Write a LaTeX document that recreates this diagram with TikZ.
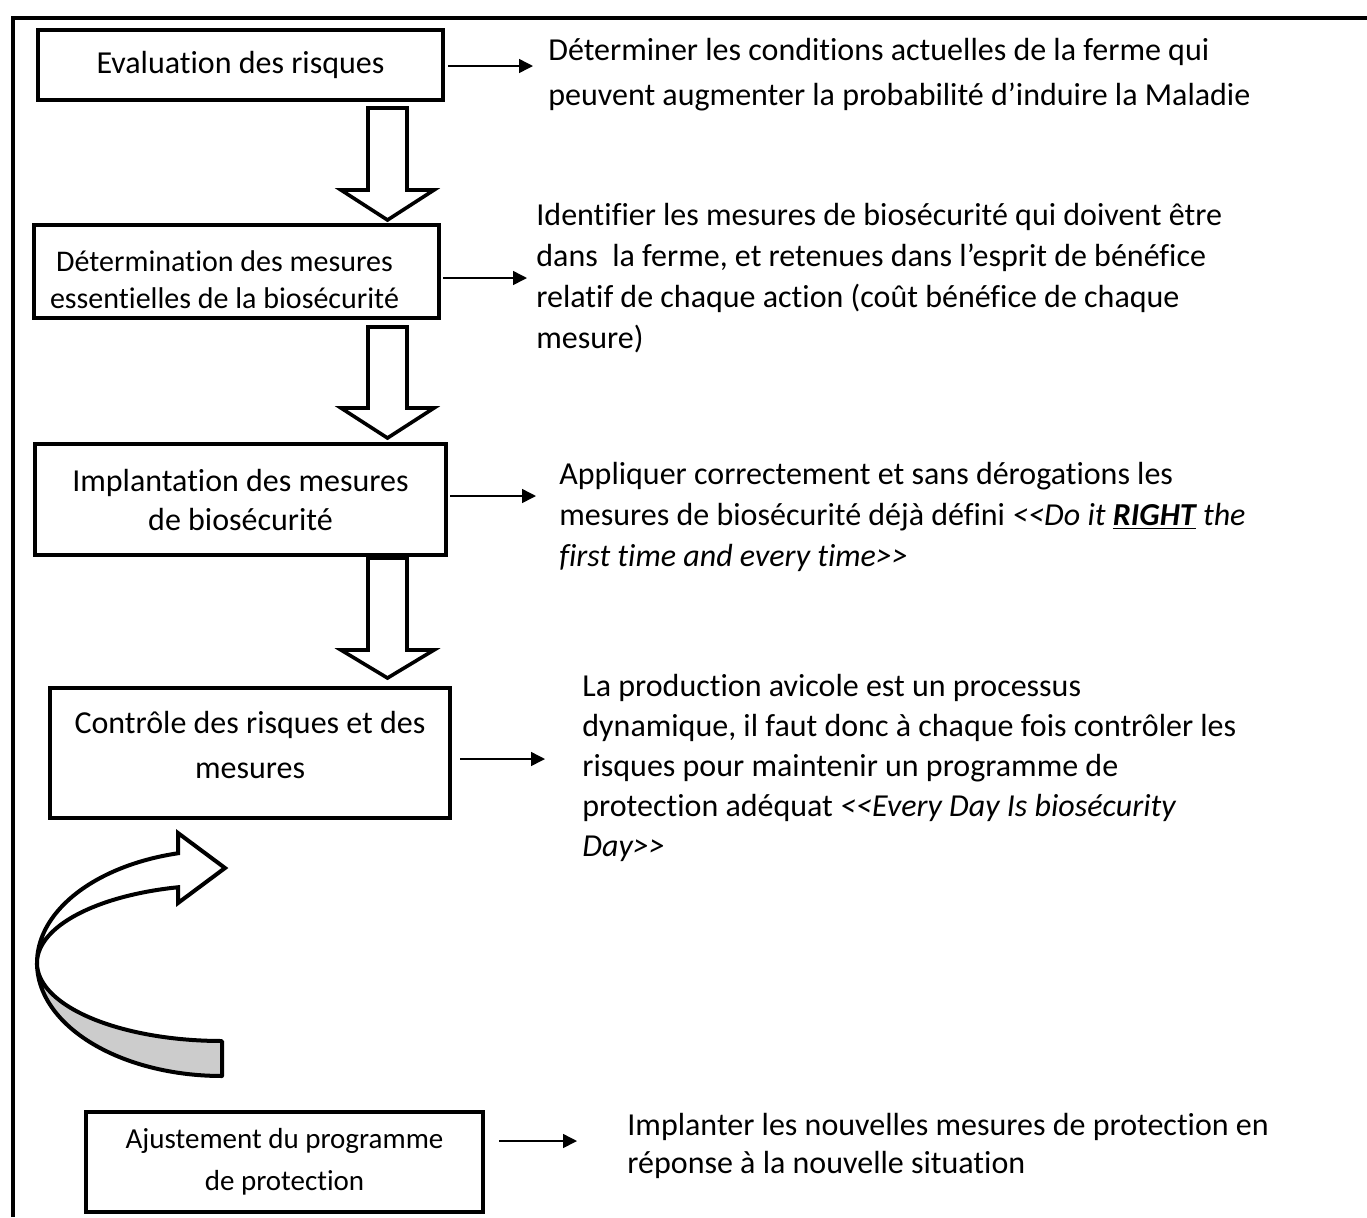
\documentclass[tikz,border=0pt]{standalone}
\usepackage{fontspec}
\setmainfont{Carlito}[Ligatures=CommonOff]
\usetikzlibrary{arrows.meta}
\begin{document}
\begin{tikzpicture}[x=0.5pt,y=-0.5pt,
  box/.style={draw, line width=2.2pt, rectangle, inner sep=0pt, align=center},
  hollow/.style={draw, line width=1.8pt, fill=white, line join=miter},
  conn/.style={line width=0.75pt, -{Triangle[length=7pt,width=7pt]}},
  txt/.style={anchor=north west, inner sep=0pt, align=left},
  frameline/.style={line width=2.4pt},
  curved/.style={draw, line width=2pt, line join=round}]
\useasboundingbox (0,0) rectangle (1367,1217);
% outer frame
\draw[frameline] (13,1217) -- (13,18) -- (1367,18);

% boxes
\node[box, font=\fontsize{16}{19.5}\selectfont, minimum width=202.5pt, minimum height=35pt] (b1) at (240.5,65) {Evaluation des risques};
\node[box, font=\fontsize{15}{18.5}\selectfont, minimum width=202.5pt, minimum height=46.5pt] (b2) at (236.5,271.5) {\rule{0pt}{19pt}Détermination des mesures\hspace*{12pt}\\essentielles de la biosécurité\hspace*{12pt}};
\node[box, font=\fontsize{16}{19.5}\selectfont, minimum width=205.5pt, minimum height=55.5pt] (b3) at (240.5,499.5) {Implantation des mesures\\de biosécurité};
\node[box, font=\fontsize{16}{22.5}\selectfont, minimum width=200pt, minimum height=65pt] (b4) at (250,753) {Contrôle des risques et des\\mesures\rule[-8pt]{0pt}{8pt}};
\node[box, font=\fontsize{14.5}{21}\selectfont, minimum width=198.5pt, minimum height=50pt] (b5) at (284.5,1162) {Ajustement du programme\\de protection};

% texts
\node[txt, font=\fontsize{16}{22.5}\selectfont] (t1) at (548,28.5) {\strut Déterminer les conditions actuelles de la ferme qui\\peuvent augmenter la probabilité d’induire la Maladie};
\node[txt, font=\fontsize{16}{20.5}\selectfont] (t2) at (536,196.3) {\strut Identifier les mesures de biosécurité qui doivent être\\dans~ la ferme, et retenues dans l’esprit de bénéfice\\relatif de chaque action (coût bénéfice de chaque\\mesure)};
\node[txt, font=\fontsize{16}{20.5}\selectfont] (t3) at (559,455.3) {\strut Appliquer correctement et sans dérogations les\\mesures de biosécurité déjà défini \textit{<{}<Do it \underline{\textbf{RIGHT}} the}\\\textit{first time and every time>{}>}};
\node[txt, font=\fontsize{16}{20}\selectfont] (t4) at (582,668) {\strut La production avicole est un processus\\dynamique, il faut donc à chaque fois contrôler les\\risques pour maintenir un programme de\\protection adéquat \textit{<{}<Every Day Is biosécurity}\\\textit{Day>{}>}};
\node[txt, font=\fontsize{16}{19}\selectfont] (t5) at (627,1108.4) {\strut Implanter les nouvelles mesures de protection en\\réponse à la nouvelle situation};

% connector end points
\coordinate (e1) at (533,66);
\coordinate (e2) at (527,278);
\coordinate (e3) at (536,496);
\coordinate (e4) at (545,759);
\coordinate (e5) at (577,1141);
\draw[conn] ([shift={(3,1)}]b1.east) -- (e1);
\draw[conn] ([shift={(2,6.5)}]b2.east) -- (e2);
\draw[conn] ([shift={(2,-3.5)}]b3.east) -- (e3);
\draw[conn] ([shift={(8,6)}]b4.east) -- (e4);
\draw[conn] ([shift={(14,-21)}]b5.east) -- (e5);

% hollow down arrows
\draw[hollow] (368,108) -- (407,108) -- (407,190) -- (434,190) -- (387.5,220) -- (341,190) -- (368,190) -- cycle;
\draw[hollow] (368,327) -- (407,327) -- (407,408) -- (434,408) -- (387.5,438) -- (341,408) -- (368,408) -- cycle;
\draw[hollow] (368,558) -- (407,558) -- (407,650) -- (434,650) -- (387.5,678) -- (341,650) -- (368,650) -- cycle;

% curved arrow (grey underside)
\path[curved, fill=black!20] (222,1041)
  -- plot[domain=90:180, samples=60] ({222+185*cos(\x)},{963+78*sin(\x)})
  -- plot[domain=90:180, samples=60] ({222+185*cos(270-\x)},{963+113*sin(270-\x)})
  -- cycle;
% curved arrow (white upper band with head)
\path[curved, fill=white, line join=miter] (37,963)
  -- plot[domain=180:256.24, samples=60] ({222+185*cos(\x)},{963+113*sin(\x)})
  -- (178,833) -- (225,868) -- (178,903)
  -- plot[domain=180:256.24, samples=60] ({222+185*cos(436.24-\x)},{963+78*sin(436.24-\x)})
  -- cycle;
\end{tikzpicture}
\end{document}
